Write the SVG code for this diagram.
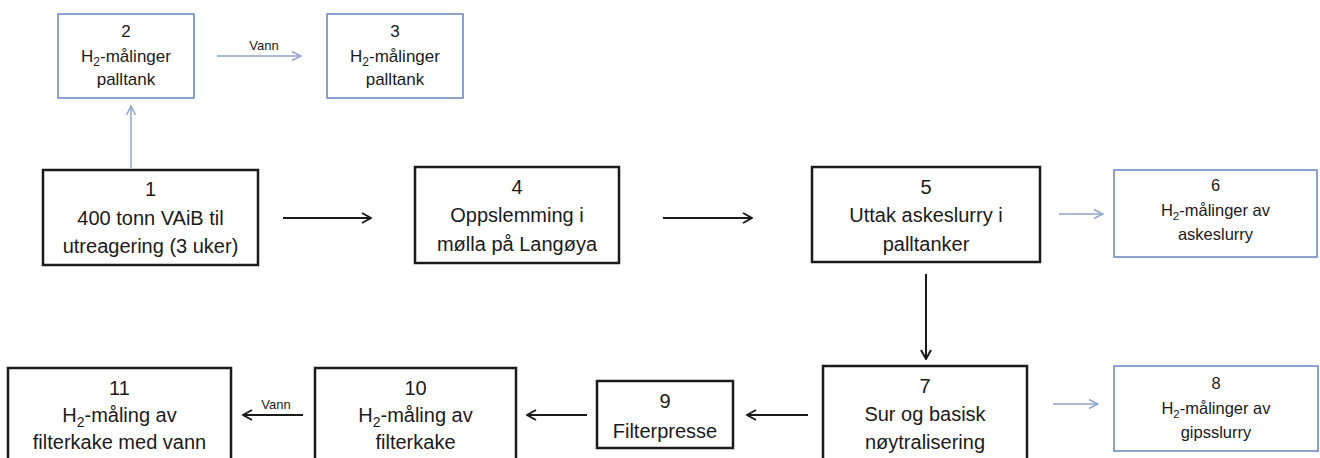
<svg xmlns="http://www.w3.org/2000/svg" width="1320" height="458" viewBox="0 0 1320 458">
<defs>
<style>
.bk{fill:#fff;stroke:#1a1a1a;stroke-width:2.5}
.bl{fill:#fff;stroke:#6f8bc3;stroke-width:1.6}
.t{font-family:"Liberation Sans",Arial,sans-serif;font-size:20px;fill:#1a1a1a;text-anchor:middle}
.ts{font-family:"Liberation Sans",Arial,sans-serif;font-size:17px;fill:#1a1a1a;text-anchor:middle}
.tss{font-family:"Liberation Sans",Arial,sans-serif;font-size:16.5px;fill:#1a1a1a;text-anchor:middle}
.lab{font-family:"Liberation Sans",Arial,sans-serif;font-size:13px;fill:#1a1a1a;text-anchor:middle}
.ab{stroke:#1a1a1a;stroke-width:2;fill:none}
.ag{stroke:#8fa3cd;stroke-width:1.5;fill:none}
</style>
<marker id="mb" viewBox="0 0 12 12" refX="11" refY="6" markerWidth="12" markerHeight="12" markerUnits="userSpaceOnUse" orient="auto">
<path d="M2,1 L11,6 L2,11" fill="none" stroke="#1a1a1a" stroke-width="2"/>
</marker>
<marker id="mg" viewBox="0 0 12 12" refX="11" refY="6" markerWidth="12" markerHeight="12" markerUnits="userSpaceOnUse" orient="auto">
<path d="M2,1.5 L11,6 L2,10.5" fill="none" stroke="#8fa3cd" stroke-width="1.5"/>
</marker>
</defs>
<rect width="1320" height="458" fill="#fff"/>

<g id="connectors">
<line class="ag" x1="131" y1="168" x2="131" y2="106" marker-end="url(#mg)"/>
<line class="ag" x1="217" y1="56" x2="301" y2="56" marker-end="url(#mg)"/>
<text class="lab" x="264" y="50">Vann</text>
<line class="ab" x1="283" y1="218" x2="371" y2="218" marker-end="url(#mb)"/>
<line class="ab" x1="663" y1="218" x2="752" y2="218" marker-end="url(#mb)"/>
<line class="ag" x1="1059" y1="214" x2="1103" y2="214" marker-end="url(#mg)"/>
<line class="ab" x1="926" y1="274" x2="926" y2="359" marker-end="url(#mb)"/>
<line class="ag" x1="1053" y1="404" x2="1098" y2="404" marker-end="url(#mg)"/>
<line class="ab" x1="808" y1="415" x2="747" y2="415" marker-end="url(#mb)"/>
<line class="ab" x1="587" y1="415" x2="527" y2="415" marker-end="url(#mb)"/>
<line class="ab" x1="303" y1="415" x2="243" y2="415" marker-end="url(#mb)"/>
<text class="lab" x="276" y="409">Vann</text>
</g>

<g id="n2">
<rect class="bl" x="58" y="14" width="136" height="84"/>
<text class="ts" x="126" y="37">2</text>
<text class="ts" x="126" y="62">H<tspan font-size="12" dy="4">2</tspan><tspan dy="-4">-målinger</tspan></text>
<text class="ts" x="126" y="85">palltank</text>
</g>

<g id="n3">
<rect class="bl" x="327" y="14" width="136" height="84"/>
<text class="ts" x="395" y="37">3</text>
<text class="ts" x="395" y="62">H<tspan font-size="12" dy="4">2</tspan><tspan dy="-4">-målinger</tspan></text>
<text class="ts" x="395" y="85">palltank</text>
</g>

<g id="n1">
<rect class="bk" x="43" y="170" width="215" height="95"/>
<text class="t" x="150.5" y="196">1</text>
<text class="t" x="150.5" y="225">400 tonn VAiB til</text>
<text class="t" x="150.5" y="253">utreagering (3 uker)</text>
</g>

<g id="n4">
<rect class="bk" x="415" y="167" width="204" height="96"/>
<text class="t" x="517" y="194">4</text>
<text class="t" x="517" y="222">Oppslemming i</text>
<text class="t" x="517" y="251">mølla på Langøya</text>
</g>

<g id="n5">
<rect class="bk" x="812" y="167" width="228" height="95"/>
<text class="t" x="926" y="194">5</text>
<text class="t" x="926" y="222">Uttak askeslurry i</text>
<text class="t" x="926" y="251">palltanker</text>
</g>

<g id="n6">
<rect class="bl" x="1114" y="170" width="203" height="87"/>
<text class="tss" x="1215.5" y="191">6</text>
<text class="tss" x="1215.5" y="216">H<tspan font-size="11.5" dy="4">2</tspan><tspan dy="-4">-målinger av</tspan></text>
<text class="tss" x="1215.5" y="240">askeslurry</text>
</g>

<g id="n7">
<rect class="bk" x="823" y="366" width="204" height="110"/>
<text class="t" x="925" y="393">7</text>
<text class="t" x="925" y="421">Sur og basisk</text>
<text class="t" x="925" y="449">nøytralisering</text>
</g>

<g id="n8">
<rect class="bl" x="1114" y="366" width="204" height="85"/>
<text class="tss" x="1216" y="389">8</text>
<text class="tss" x="1216" y="414">H<tspan font-size="11.5" dy="4">2</tspan><tspan dy="-4">-målinger av</tspan></text>
<text class="tss" x="1216" y="438">gipsslurry</text>
</g>

<g id="n9">
<rect class="bk" x="597" y="381" width="136" height="67"/>
<text class="t" x="665" y="408">9</text>
<text class="t" x="665" y="438">Filterpresse</text>
</g>

<g id="n10">
<rect class="bk" x="315" y="368" width="201" height="110"/>
<text class="t" x="415.5" y="395">10</text>
<text class="t" x="415.5" y="422">H<tspan font-size="14" dy="5">2</tspan><tspan dy="-5">-måling av</tspan></text>
<text class="t" x="415.5" y="449">filterkake</text>
</g>

<g id="n11">
<rect class="bk" x="8" y="368" width="223" height="110"/>
<text class="t" x="119.5" y="395">11</text>
<text class="t" x="119.5" y="422">H<tspan font-size="14" dy="5">2</tspan><tspan dy="-5">-måling av</tspan></text>
<text class="t" x="119.5" y="449">filterkake med vann</text>
</g>
</svg>
